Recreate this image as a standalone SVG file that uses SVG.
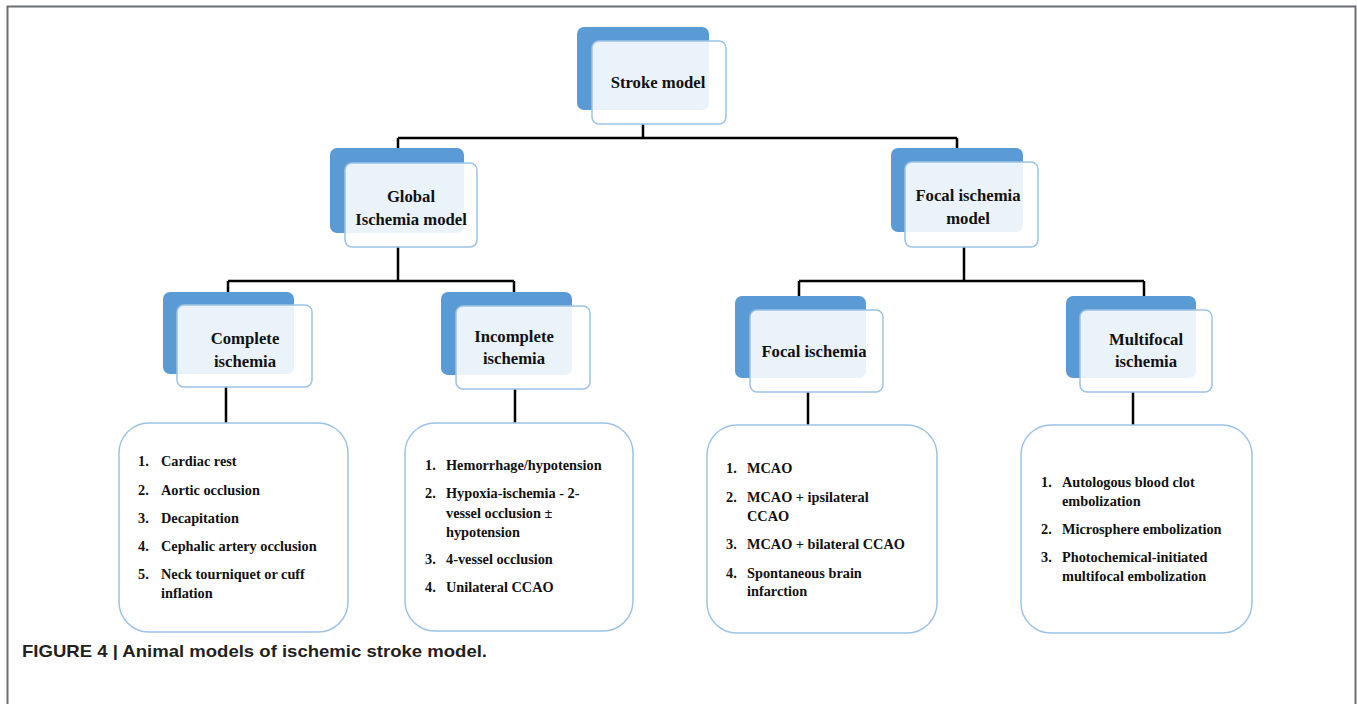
<svg xmlns="http://www.w3.org/2000/svg" width="1357" height="704" viewBox="0 0 1357 704">
<style>
.back{fill:#5b9bd5;}
.front{fill:#ffffff;fill-opacity:0.88;stroke:#9dc3e6;stroke-width:1.5;}
.list{fill:#ffffff;stroke:#9dc3e6;stroke-width:1.5;}
.t{font-family:"Liberation Serif","Times New Roman",serif;font-weight:bold;font-size:16.7px;fill:#111;text-anchor:middle;}
.li{font-family:"Liberation Serif","Times New Roman",serif;font-weight:bold;font-size:14.3px;fill:#111;}
.conn{stroke:#000;stroke-width:2.5;fill:none;}
.cap{font-family:"Liberation Sans",Arial,sans-serif;font-weight:bold;font-size:17px;fill:#231f20;}
</style>
<rect width="1357" height="704" fill="#fff"/>
<path d="M7.5 704 V6.5 H1355.5 V704" fill="none" stroke="#6d6e71" stroke-width="2"/>
<g id="connectors">
<path class="conn" d="M643 124 V138 M398 138 H957 M398 138 V148 M957 138 V148"/>
<path class="conn" d="M398 247 V281 M228 281 H514 M228 281 V292 M514 281 V292"/>
<path class="conn" d="M964 247 V281 M799 281 H1144 M799 281 V296 M1144 281 V296"/>
<path class="conn" d="M226 387 V423 M515 389 V423 M808 392 V427 M1133 392 V427"/>
</g>
<g id="stroke-model">
<rect class="back" x="577" y="27" width="132" height="83" rx="7"/>
<rect class="front" x="592" y="41" width="134" height="83" rx="7"/>
<text class="t" x="658" y="88">Stroke model</text>
</g>
<g id="global-ischemia">
<rect class="back" x="330" y="148" width="134" height="85" rx="7"/>
<rect class="front" x="345" y="163" width="132" height="84" rx="7"/>
<text class="t" x="411" y="202">Global</text>
<text class="t" x="411" y="225">Ischemia model</text>
</g>
<g id="focal-ischemia-model">
<rect class="back" x="891" y="148" width="132" height="84" rx="7"/>
<rect class="front" x="905" y="162" width="133" height="85" rx="7"/>
<text class="t" x="968" y="201">Focal ischemia</text>
<text class="t" x="968" y="224">model</text>
</g>
<g id="complete-ischemia">
<rect class="back" x="163" y="292" width="131" height="82" rx="7"/>
<rect class="front" x="177" y="305" width="135" height="82" rx="7"/>
<text class="t" x="245" y="344">Complete</text>
<text class="t" x="245" y="367">ischemia</text>
</g>
<g id="incomplete-ischemia">
<rect class="back" x="441" y="292" width="131" height="83" rx="7"/>
<rect class="front" x="456" y="306" width="134" height="83" rx="7"/>
<text class="t" x="514" y="342">Incomplete</text>
<text class="t" x="514" y="364">ischemia</text>
</g>
<g id="focal-ischemia">
<rect class="back" x="735" y="296" width="131" height="82" rx="7"/>
<rect class="front" x="750" y="310" width="133" height="82" rx="7"/>
<text class="t" x="814" y="357">Focal ischemia</text>
</g>
<g id="multifocal-ischemia">
<rect class="back" x="1066" y="296" width="130" height="82" rx="7"/>
<rect class="front" x="1080" y="310" width="132" height="82" rx="7"/>
<text class="t" x="1146" y="345">Multifocal</text>
<text class="t" x="1146" y="367">ischemia</text>
</g>
<g id="complete-list">
<rect class="list" x="119" y="423" width="229" height="209" rx="30"/>
<text class="li" x="138" y="466">1.</text><text class="li" x="161" y="466">Cardiac  rest</text>
<text class="li" x="138" y="495">2.</text><text class="li" x="161" y="495">Aortic  occlusion</text>
<text class="li" x="138" y="523">3.</text><text class="li" x="161" y="523">Decapitation</text>
<text class="li" x="138" y="551">4.</text><text class="li" x="161" y="551">Cephalic  artery  occlusion</text>
<text class="li" x="138" y="579">5.</text><text class="li" x="161" y="579">Neck tourniquet  or cuff</text>
<text class="li" x="161" y="598">inflation</text>
</g>
<g id="incomplete-list">
<rect class="list" x="405" y="423" width="228" height="208" rx="30"/>
<text class="li" x="425" y="470">1.</text><text class="li" x="446" y="470">Hemorrhage/hypotension</text>
<text class="li" x="425" y="498">2.</text><text class="li" x="446" y="498">Hypoxia-ischemia  - 2-</text>
<text class="li" x="446" y="518">vessel occlusion ±</text>
<text class="li" x="446" y="537">hypotension</text>
<text class="li" x="425" y="564">3.</text><text class="li" x="446" y="564">4-vessel occlusion</text>
<text class="li" x="425" y="592">4.</text><text class="li" x="446" y="592">Unilateral  CCAO</text>
</g>
<g id="focal-list">
<rect class="list" x="707" y="425" width="230" height="208" rx="30"/>
<text class="li" x="726" y="473">1.</text><text class="li" x="747" y="473">MCAO</text>
<text class="li" x="726" y="502">2.</text><text class="li" x="747" y="502">MCAO + ipsilateral</text>
<text class="li" x="747" y="521">CCAO</text>
<text class="li" x="726" y="549">3.</text><text class="li" x="747" y="549">MCAO + bilateral  CCAO</text>
<text class="li" x="726" y="578">4.</text><text class="li" x="747" y="578">Spontaneous  brain</text>
<text class="li" x="747" y="596">infarction</text>
</g>
<g id="multifocal-list">
<rect class="list" x="1021" y="425" width="231" height="208" rx="30"/>
<text class="li" x="1041" y="487">1.</text><text class="li" x="1062" y="487">Autologous  blood  clot</text>
<text class="li" x="1062" y="506">embolization</text>
<text class="li" x="1041" y="534">2.</text><text class="li" x="1062" y="534">Microsphere  embolization</text>
<text class="li" x="1041" y="562">3.</text><text class="li" x="1062" y="562">Photochemical-initiated</text>
<text class="li" x="1062" y="581">multifocal  embolization</text>
</g>
<text class="cap" x="22" y="657" textLength="465" lengthAdjust="spacingAndGlyphs">FIGURE 4 | Animal models of ischemic stroke model.</text>
</svg>
